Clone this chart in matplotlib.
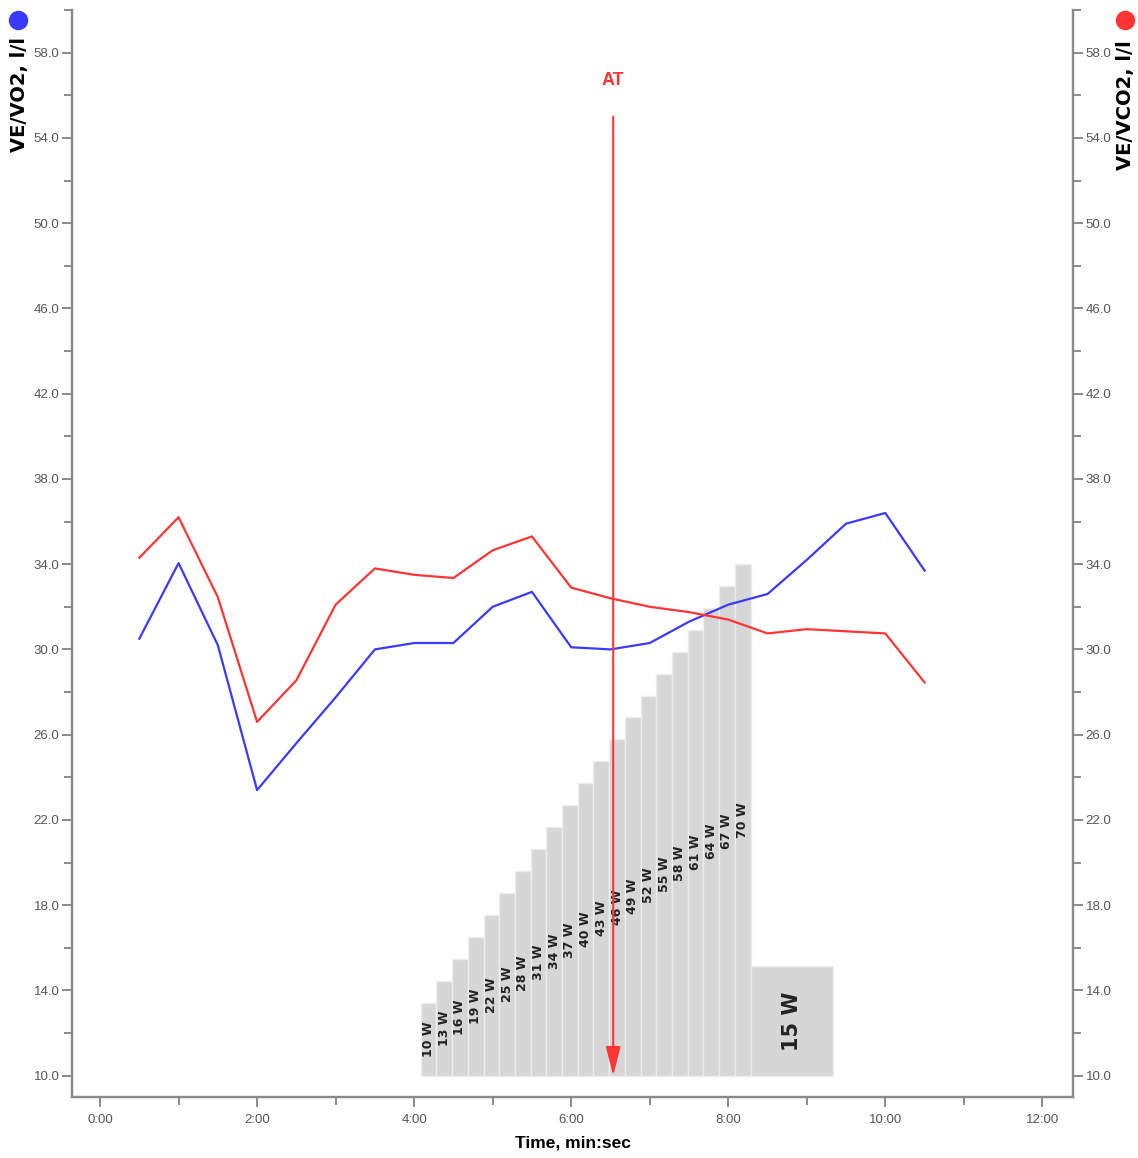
import matplotlib.pyplot as plt
from matplotlib.lines import Line2D
from matplotlib.ticker import MultipleLocator, FuncFormatter

# Ventilatory equivalents, sampled every 30 s (time in minutes)
time_min = [0.5, 1.0, 1.5, 2.0, 2.5, 3.0, 3.5, 4.0, 4.5, 5.0, 5.5,
            6.0, 6.5, 7.0, 7.5, 8.0, 8.5, 9.0, 9.5, 10.0, 10.5]
ve_vo2 = [30.5, 34.05, 30.2, 23.4, 25.6, 27.75, 30.0, 30.3, 30.3, 32.0, 32.7,
          30.1, 30.0, 30.3, 31.3, 32.1, 32.6, 34.2, 35.9, 36.4, 33.7]
ve_vco2 = [34.3, 36.2, 32.45, 26.6, 28.55, 32.1, 33.8, 33.5, 33.35, 34.65, 35.3,
           32.9, 32.4, 32.0, 31.75, 31.4, 30.75, 30.95, 30.85, 30.75, 28.45]

# Ramp protocol: 12 s steps of +3 W, then a recovery stage
ramp_watts = [10, 13, 16, 19, 22, 25, 28, 31, 34, 37, 40,
              43, 46, 49, 52, 55, 58, 61, 64, 67, 70]
ramp_start = 4 + 5 / 60
step_min = 12 / 60
recovery_watts = 15
recovery_end = 9 + 20 / 60

at_time = 6.535
at_top = 55.0

BLUE = "#3a3aff"
RED = "#ff3535"
AXIS_GREY = "#8a8a8a"
TICK_TEXT = "#5a5555"
TICK_FONT = ["Liberation Sans Narrow", "Liberation Sans", "DejaVu Sans"]

Y_MIN, Y_MAX = 9.0, 60.0
WATT_SCALE = 0.343  # y units per watt, zero watts sits on y = 10


def mmss(x, pos):
    return "%d:00" % round(x)


fig = plt.figure(figsize=(11.38, 11.58), dpi=100)
ax = fig.add_axes([72 / 1138, 1 - 1097 / 1158, 1001 / 1138, 1087 / 1158])
ax_w = ax.twinx()
ax_r = ax.twinx()
ax.set_zorder(ax_w.get_zorder() + 1)
ax.patch.set_visible(False)

# workload bars on a hidden watts axis
ax_w.set_ylim((Y_MIN - 10) / WATT_SCALE, (Y_MAX - 10) / WATT_SCALE)
ax_w.axis("off")
lefts = [ramp_start + i * step_min for i in range(len(ramp_watts))]
ax_w.bar(lefts, ramp_watts, width=step_min, align="edge",
         color="#d6d6d6", edgecolor="#eeeeee", linewidth=1)
rec_left = ramp_start + len(ramp_watts) * step_min
ax_w.bar([rec_left], [recovery_watts], width=recovery_end - rec_left, align="edge",
         color="#d6d6d6", edgecolor="#eeeeee", linewidth=1)
for x, w in zip(lefts, ramp_watts):
    ax_w.text(x + step_min / 2, w / 2, "%d W" % w, rotation=90, ha="center", va="center",
              fontsize=9, fontweight="bold", color="#222222", family="DejaVu Sans")
ax_w.text((rec_left + recovery_end) / 2, recovery_watts / 2, "%d W" % recovery_watts,
          rotation=90, ha="center", va="center", fontsize=15, fontweight="bold",
          color="#222222", family="DejaVu Sans")

ax.plot(time_min, ve_vo2, color=BLUE, lw=1.6)
ax.plot(time_min, ve_vco2, color=RED, lw=1.6)

# anaerobic threshold marker
ax.annotate("", xy=(at_time, 10), xytext=(at_time, at_top),
            arrowprops=dict(arrowstyle="-|>,head_length=1.1,head_width=0.28",
                            color=RED, lw=1.5, shrinkA=0, shrinkB=0, mutation_scale=16))
ax.text(at_time, 56.7, "AT", color=RED, ha="center", va="center",
        fontsize=13, fontweight="bold", family="Liberation Sans")

ax.set_xlim(-0.357, 12.39)
for a in (ax, ax_r):
    a.set_ylim(Y_MIN, Y_MAX)
    a.yaxis.set_major_locator(MultipleLocator(4, offset=2))
    a.yaxis.set_minor_locator(MultipleLocator(4))
    a.yaxis.set_major_formatter(FuncFormatter(lambda v, p: "%.1f" % v))
    for s in a.spines.values():
        s.set_color(AXIS_GREY)
        s.set_linewidth(1.6)
    a.spines["top"].set_visible(False)
    a.tick_params(which="major", length=7, width=1.4, color=AXIS_GREY,
                  labelsize=9.5, labelcolor=TICK_TEXT, pad=2)
    a.tick_params(which="minor", length=6, width=1.4, color=AXIS_GREY)

ax.xaxis.set_major_locator(MultipleLocator(2))
ax.xaxis.set_minor_locator(MultipleLocator(1))
ax.xaxis.set_major_formatter(FuncFormatter(mmss))
ax.tick_params(axis="x", which="major", pad=5)
for lbl in ax.get_xticklabels() + ax.get_yticklabels() + ax_r.get_yticklabels():
    lbl.set_family(TICK_FONT)

ax.set_xlabel("Time, min:sec", fontsize=12.5, fontweight="bold", family="Liberation Sans",
              labelpad=7)

# series markers and titles on both sides
fig.add_artist(Line2D([18 / 1138], [1 - 20 / 1158], marker="o", markersize=13,
                      color=BLUE, transform=fig.transFigure))
fig.add_artist(Line2D([1125 / 1138], [1 - 20 / 1158], marker="o", markersize=13,
                      color=RED, transform=fig.transFigure))
fig.text(20 / 1138, 1 - 95 / 1158, "VE/VO2, l/l", rotation=90, ha="center", va="center",
         fontsize=14, fontweight="bold", family="DejaVu Sans")
fig.text(1125 / 1138, 1 - 105 / 1158, "VE/VCO2, l/l", rotation=90, ha="center", va="center",
         fontsize=14, fontweight="bold", family="DejaVu Sans")

fig.savefig("out.png", dpi=100)
